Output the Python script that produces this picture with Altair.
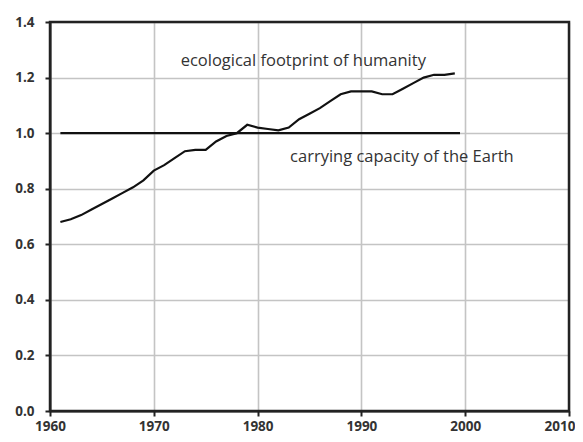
import altair as alt
import pandas as pd

years = list(range(1961, 2000))
footprint = [0.68, 0.69, 0.705, 0.725, 0.745, 0.765, 0.785, 0.805, 0.83, 0.865,
             0.885, 0.91, 0.935, 0.94, 0.94, 0.97, 0.99, 1.00, 1.03, 1.02,
             1.015, 1.01, 1.02, 1.05, 1.07, 1.09, 1.115, 1.14, 1.15, 1.15,
             1.15, 1.14, 1.14, 1.16, 1.18, 1.20, 1.21, 1.21, 1.215]
capacity_years = [1961, 1999.5]
capacity_values = [1.0, 1.0]
label_text = ["ecological footprint of humanity", "carrying capacity of the Earth"]
label_x = [1984.4, 1993.9]
label_y = [1.26, 0.914]
x_domain = [1960, 2010]
y_domain = [0, 1.4]
x_ticks = [1960, 1970, 1980, 1990, 2000, 2010]
y_ticks = [0, 0.2, 0.4, 0.6, 0.8, 1.0, 1.2, 1.4]

df = pd.DataFrame({"year": years, "value": footprint})
cap = pd.DataFrame({"year": capacity_years, "value": capacity_values})
lab = pd.DataFrame({"year": label_x, "value": label_y, "text": label_text})
box = pd.DataFrame({"x0": [x_domain[0]], "x1": [x_domain[1]], "y0": [y_domain[0]], "y1": [y_domain[1]]})

FONT = "Open Sans"
GRID = "#c4c4c4"
DARK = "#222"
W, H = 519, 389

x = alt.X("year:Q", scale=alt.Scale(domain=x_domain, nice=False),
          axis=alt.Axis(values=x_ticks, format="d", title=None,
                        grid=True, gridColor=GRID, gridWidth=1.6,
                        domainColor=DARK, domainWidth=2, tickColor=DARK, tickWidth=2,
                        tickSize=5, labelFont=FONT, labelFontSize=13.5, labelFontWeight="bold",
                        labelColor="#333", labelPadding=3, labelFlush=False,
                        labelAlign={"condition": {"test": "datum.value >= 2010", "value": "right"}, "value": "center"},
                        labelOffset={"condition": {"test": "datum.value >= 2010", "value": 6}, "value": 0}))
y = alt.Y("value:Q", scale=alt.Scale(domain=y_domain, nice=False),
          axis=alt.Axis(values=y_ticks, format=".1f", title=None,
                        grid=True, gridColor=GRID, gridWidth=1.6,
                        domainColor=DARK, domainWidth=2, tickColor=DARK, tickWidth=2,
                        tickSize=5, labelFont=FONT, labelFontSize=13.5, labelFontWeight="bold",
                        labelColor="#333", labelPadding=11))

frame = alt.Chart(box).mark_rect(fill="transparent", stroke=DARK, strokeWidth=2.5).encode(
    x="x0:Q", x2="x1", y="y0:Q", y2="y1")
line = alt.Chart(df).mark_line(color="#111", strokeWidth=2.2).encode(x=x, y=y)
capline = alt.Chart(cap).mark_line(color="#111", strokeWidth=2.4).encode(x="year:Q", y="value:Q")
texts = alt.Chart(lab).mark_text(font=FONT, fontSize=16.5, color="#333", align="center",
                                 baseline="middle").encode(x="year:Q", y="value:Q", text="text:N")

chart = alt.layer(line, capline, texts, frame).properties(
    width=W, height=H,
    background="white",
    autosize=alt.AutoSizeParams(type="none"),
    padding={"left": 42, "top": 14, "right": 6, "bottom": 25},
).configure_view(stroke=DARK, strokeWidth=2)

chart.save("out.html", embed_options={"renderer": "svg", "actions": False})
